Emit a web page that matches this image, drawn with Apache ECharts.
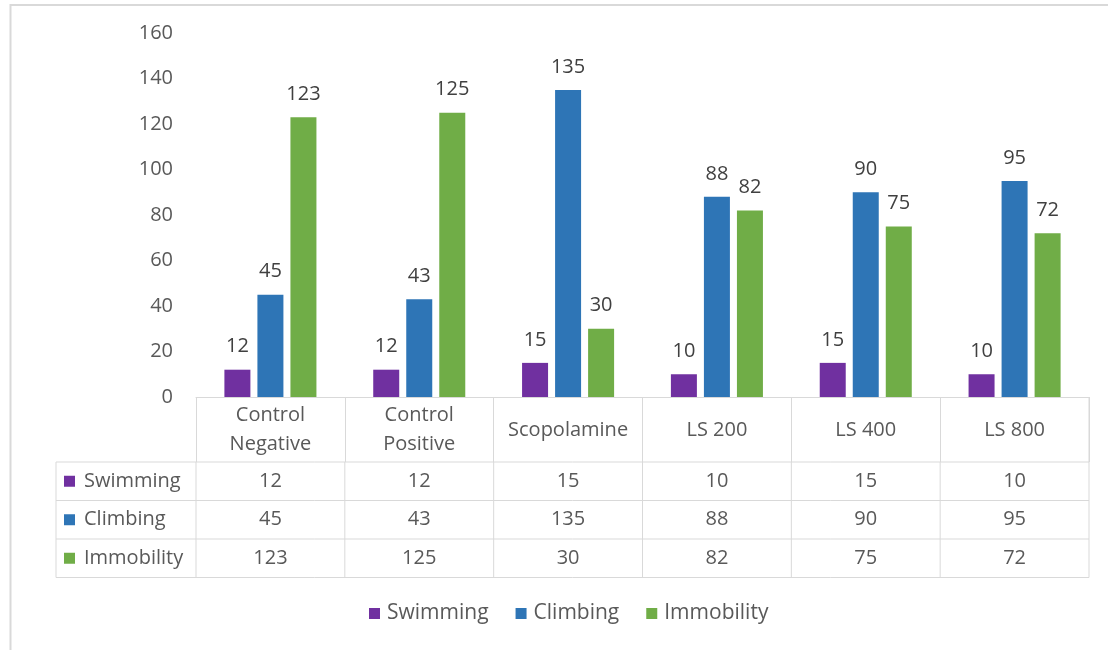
<!DOCTYPE html>
<html>
<head>
<meta charset="utf-8">
<script src="https://cdn.jsdelivr.net/npm/echarts@6/dist/echarts.min.js"></script>
<style>
html,body{margin:0;padding:0;background:#fff;}
#chart{width:1108px;height:650px;}
</style>
</head>
<body>
<div id="chart"></div>
<script>
var categories = ['Control\nNegative', 'Control\nPositive', 'Scopolamine', 'LS 200', 'LS 400', 'LS 800'];
var seriesNames = ['Swimming', 'Climbing', 'Immobility'];
var swimming = [12, 12, 15, 10, 15, 10];
var climbing = [45, 43, 135, 88, 90, 95];
var immobility = [123, 125, 30, 82, 75, 72];
var colors = ['#7030A0', '#2E75B6', '#70AD47'];
var yTicks = {min: 0, max: 160, interval: 20};

var FONT = '"Open Sans"';
var FS = 20;
var TXT = '#595959';
var LINE = '#d9d9d9';
var seriesData = [swimming, climbing, immobility];

var chart = echarts.init(document.getElementById('chart'));

function mkSeries(i) {
  return {
    name: seriesNames[i],
    type: 'bar',
    data: seriesData[i],
    barWidth: 26,
    barGap: '27%',
    itemStyle: {color: colors[i]},
    label: {
      show: true, position: 'top', distance: 13,
      color: '#404040', fontFamily: FONT, fontSize: FS
    }
  };
}

var option = {
  backgroundColor: '#fff',
  animation: false,
  grid: {left: 196, right: 19, top: 33, bottom: 253},
  legend: {
    data: seriesNames,
    top: 598, left: 364,
    icon: 'rect', itemWidth: 11, itemHeight: 11, itemGap: 27,
    textStyle: {color: TXT, fontFamily: FONT, fontSize: 21, padding: [0, 0, 0, 2]}
  },
  xAxis: {
    type: 'category',
    data: categories,
    axisLine: {show: true, lineStyle: {color: LINE, width: 1}},
    axisTick: {show: true, length: 65, lineStyle: {color: LINE}},
    axisLabel: {
      color: TXT, fontFamily: FONT, fontSize: FS, lineHeight: 29,
      verticalAlign: 'middle', margin: 33, interval: 0
    }
  },
  yAxis: {
    type: 'value',
    min: yTicks.min, max: yTicks.max, interval: yTicks.interval,
    axisLine: {show: false},
    axisTick: {show: false},
    splitLine: {show: false},
    axisLabel: {color: TXT, fontFamily: FONT, fontSize: FS, margin: 23}
  },
  series: [mkSeries(0), mkSeries(1), mkSeries(2)]
};
chart.setOption(option);

// Build the data table beneath the axis from the same arrays
function buildTable() {
  var y0 = chart.convertToPixel({yAxisIndex: 0}, 0);
  var c0 = chart.convertToPixel({xAxisIndex: 0}, 0);
  var c1 = chart.convertToPixel({xAxisIndex: 0}, 1);
  var colW = c1 - c0;
  var leftEdge = c0 - colW / 2;
  var rightEdge = leftEdge + colW * categories.length;
  var tableLeft = 56;
  var headerH = 65;
  var rowH = 38.5;
  var rowTop = y0 + headerH;
  var els = [];
  // outer frame
  els.push({type: 'polyline', shape: {points: [[10.5, 650], [10.5, 5], [1108, 5]]},
    style: {stroke: LINE, lineWidth: 2, fill: null}, silent: true});
  // right edge of header row
  els.push({type: 'line', shape: {x1: rightEdge, y1: y0, x2: rightEdge, y2: rowTop},
    style: {stroke: LINE, lineWidth: 1}});
  for (var r = 0; r <= seriesNames.length; r++) {
    var yy = rowTop + r * rowH;
    els.push({type: 'line', shape: {x1: tableLeft, y1: yy, x2: rightEdge, y2: yy},
      style: {stroke: LINE, lineWidth: 1}});
  }
  var xs = [tableLeft];
  for (var c = 0; c <= categories.length; c++) xs.push(leftEdge + c * colW);
  xs.forEach(function (x) {
    els.push({type: 'line', shape: {x1: x, y1: rowTop, x2: x, y2: rowTop + rowH * seriesNames.length},
      style: {stroke: LINE, lineWidth: 1}});
  });
  for (var s = 0; s < seriesNames.length; s++) {
    var cy = rowTop + s * rowH + rowH / 2;
    els.push({type: 'rect', shape: {x: 64, y: cy - 5.5, width: 11, height: 11},
      style: {fill: colors[s]}});
    els.push({type: 'text', x: 84, y: cy,
      style: {text: seriesNames[s], fill: TXT, font: FS + 'px ' + FONT, textVerticalAlign: 'middle', textAlign: 'left'}});
    for (var k = 0; k < categories.length; k++) {
      els.push({type: 'text', x: leftEdge + k * colW + colW / 2, y: cy,
        style: {text: String(seriesData[s][k]), fill: TXT, font: FS + 'px ' + FONT,
          textVerticalAlign: 'middle', textAlign: 'center'}});
    }
  }
  chart.setOption({graphic: {elements: els}});
}
buildTable();
</script>
</body>
</html>
